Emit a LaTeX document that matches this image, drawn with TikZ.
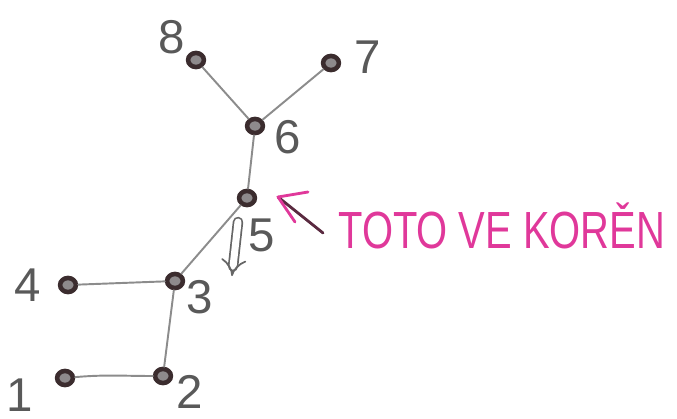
\documentclass[tikz,border=0pt]{standalone}
\usepackage{fontspec}
\setmainfont{Liberation Sans}
\usepackage{graphicx}
\usetikzlibrary{arrows.meta,calc,shapes.geometric}
\definecolor{Vfill}{HTML}{3B2C2E}
\definecolor{Vcore}{HTML}{8E8A8C}
\definecolor{Eline}{HTML}{8C8C8C}
\definecolor{Pink}{HTML}{E0389A}
\definecolor{Pdark}{HTML}{5A2A40}

\begin{document}
\begin{tikzpicture}[x=0.02cm,y=-0.02cm,line join=round,line cap=round,
  vtx/.style={ellipse,minimum width=9pt,minimum height=8pt,inner sep=0pt,
    draw=Vfill,line width=2.6pt,fill=Vcore},
  edge/.style={Eline,line width=1.1pt},
  lbl/.style={inner sep=0pt,text=black!65,font=\fontsize{27}{30}\selectfont}]
\useasboundingbox (0,0) rectangle (677,419);

% ---- vertices ----
\foreach \n/\x/\y in {1/65/378, 2/163/376, 3/175/281, 4/68/285,
                      5/247/198, 6/255/126, 7/331/63, 8/196/60}{
  \node[vtx] (n\n) at (\x,\y) {};}

% ---- edges ----
\draw[edge] (n1) to[out=5,in=180] (n2);
\draw[edge] (n2) -- (n3);
\draw[edge] (n3) -- (n4);
\draw[edge] (n3) -- (n5);
\draw[edge] (n5) -- (n6);
\draw[edge] (n6) -- (n7);
\draw[edge] (n6) -- (n8);

% ---- vertex numbers ----
\foreach \n/\x/\y in {1/20/395, 2/190/392, 3/200/297, 4/28/285,
                      5/262/235, 6/288/137, 7/368/57, 8/172/37}{
  \node[lbl] (l\n) at (\x,\y) {\n};}

% ---- the downward mark at 5 ----
\coordinate (dTop) at (238,222);
\coordinate (dBot) at (232,276);
\draw[black!60,line width=1pt,double distance=4pt,-{Implies[length=8pt,width=14pt]}] (dTop) -- (dBot);

% ---- the root pointer ----
\coordinate (rTail) at (323,233);
\coordinate (rTip) at (278,197);
\draw[Pdark,line width=1.6pt] (rTail) -- (rTip);
\draw[Pink,line width=1.6pt] ($(rTip)+(30,-5)$) -- (rTip) -- ($(rTip)+(17,25)$);
\node[anchor=west,inner sep=0pt,text=Pink] (root) at (338,226)
  {\resizebox{186pt}{26pt}{TOTO VE KORĚN}};
\end{tikzpicture}
\end{document}
